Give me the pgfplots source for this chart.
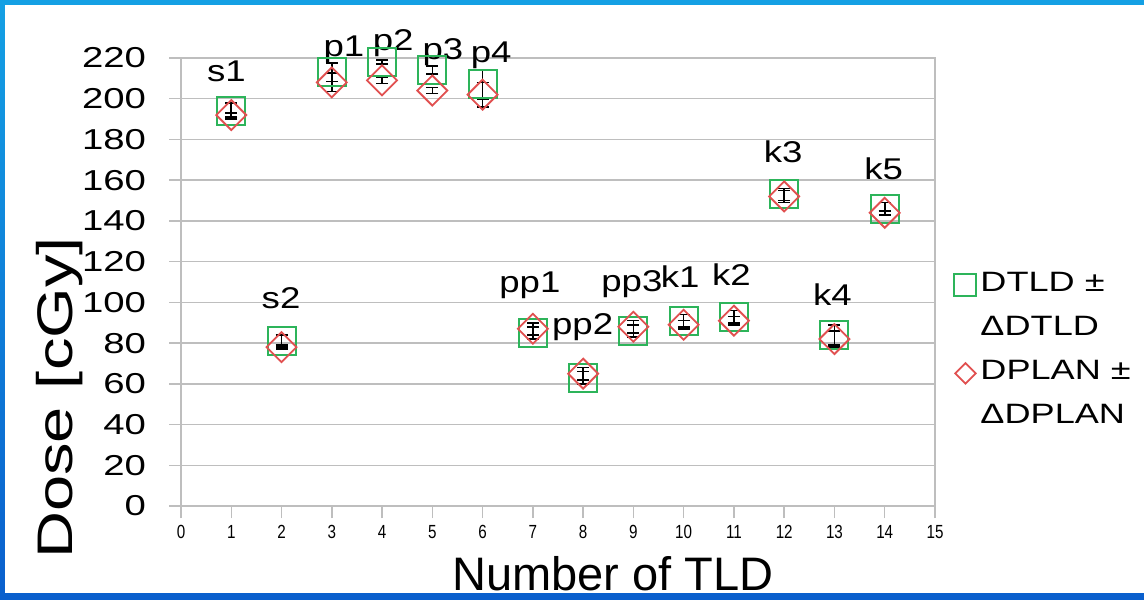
\documentclass[border=0pt]{standalone}
\usepackage{graphicx}
\usepackage{pgfplots}
\pgfplotsset{compat=1.18}
\usepackage{fontspec}
\setmainfont{Liberation Sans}
\definecolor{mygreen}{RGB}{45,180,90}
\definecolor{myred}{RGB}{225,80,80}
\definecolor{mygrid}{RGB}{190,190,190}
\definecolor{blueT}{RGB}{20,160,228}
\definecolor{blueB}{RGB}{10,95,205}
\newcommand{\wide}[1]{\scalebox{1.22}[1]{#1}}
\newcommand{\lw}[1]{\scalebox{1.29}[1]{#1}}
\begin{document}
\begin{tikzpicture}
\shade[top color=blueT, bottom color=blueB] (0pt,0pt) rectangle (572pt,299.5pt);
\fill[white] (2.5pt,3pt) rectangle (572pt,297pt);
\begin{axis}[
  at={(90.5pt,46.5pt)}, anchor=south west,
  scale only axis, width=377pt, height=224pt,
  xmin=0, xmax=15, ymin=0, ymax=220,
  xtick={0,...,15}, ytick={0,20,...,220},
  ymajorgrids, major grid style={mygrid, line width=0.75pt},
  axis line style={mygrid, line width=0.75pt},
  tick align=outside, major tick length=6pt,
  tick style={mygrid, line width=0.75pt},
  xtick pos=left, ytick pos=left,
  /pgf/number format/assume math mode=true,
  yticklabel={\scalebox{1.33}[1]{\pgfmathprintnumber{\tick}}},
  yticklabel style={font=\fontsize{14.4}{14}\selectfont, xshift=-8pt},
  xticklabel style={font=\fontsize{9.5}{10}\selectfont, xscale=0.8},
  clip=false,
  legend cell align=left,
  legend style={at={(1.0,0.538)}, anchor=north west, draw=none, fill=none,
    xshift=3.5pt, yshift=3pt,
    font=\fontsize{14}{20}\selectfont,
    nodes={inner ysep=0pt, text height=14pt, text depth=8pt}, row sep=0pt},
]
\addplot[forget plot, only marks, mark=square, mark size=7pt, mygreen, mark options={line width=1pt},
  error bars/.cd, y dir=both, y explicit,
  error bar style={black, line width=0.8pt},
  error mark options={black, line width=0.8pt, mark size=3pt, rotate=90}]
  table[x=x, y=v, y error=e] {
x v e
1 194 4
2 81 3
3 213 4.5
4 218 1
5 214 2
6 207 7
7 85 3
8 63 3
9 86 3
10 91 3
11 93 3
12 153 3
13 84 5
14 146 3
};
\addplot[forget plot, only marks, mark=square, mark size=5.3pt, myred, mark options={rotate=45, line width=0.9pt},
  error bars/.cd, y dir=both, y explicit,
  error bar style={black, line width=0.8pt},
  error mark options={black, line width=0.8pt, mark size=3pt, rotate=90}]
  table[x=x, y=v, y error=e] {
x v e
1 192 1
2 78 1
3 208 4.5
4 209 1.5
5 204 1.5
6 202 6
7 87 3
8 65 3
9 88 3
10 89 2
11 91 2
12 152 3
13 82 4
14 144 1
};
\addlegendimage{only marks, mark=square, mark size=5.5pt, mygreen, mark options={line width=1pt}}
\addlegendentry{\lw{DTLD ±}}
\addlegendimage{empty legend}
\addlegendentry{\lw{ΔDTLD}}
\addlegendimage{only marks, mark=square, mark size=3.6pt, myred, mark options={rotate=45, line width=0.9pt}}
\addlegendentry{\lw{DPLAN ±}}
\addlegendimage{empty legend}
\addlegendentry{\lw{ΔDPLAN}}
\begin{scope}[every node/.style={font=\fontsize{15}{15}\selectfont, anchor=base, inner sep=0pt}]
\node at (axis cs:0.905,208.4) {\wide{s1}};
\node at (axis cs:3.24,220.8) {\wide{p1}};
\node at (axis cs:4.22,223.6) {\wide{p2}};
\node at (axis cs:5.21,219.4) {\wide{p3}};
\node at (axis cs:6.17,217.7) {\wide{p4}};
\node at (axis cs:1.99,97.2) {\wide{s2}};
\node at (axis cs:6.94,104.8) {\wide{pp1}};
\node at (axis cs:7.99,84) {\wide{pp2}};
\node at (axis cs:8.97,105.3) {\wide{pp3}};
\node at (axis cs:9.93,107.4) {\wide{k1}};
\node at (axis cs:10.95,108.5) {\wide{k2}};
\node at (axis cs:11.98,168.5) {\wide{k3}};
\node at (axis cs:12.96,98.7) {\wide{k4}};
\node at (axis cs:13.98,160.1) {\wide{k5}};
\end{scope}
\end{axis}
\node[font=\fontsize{23.5}{24}\selectfont, anchor=base, inner sep=0pt] at (306.5pt,4.5pt) {Number of TLD};
\node[font=\fontsize{25}{25}\selectfont, rotate=90, anchor=base, inner sep=0pt] at (36pt,100.5pt) {\scalebox{1.3}[1]{Dose [cGy]}};
\end{tikzpicture}
\end{document}
